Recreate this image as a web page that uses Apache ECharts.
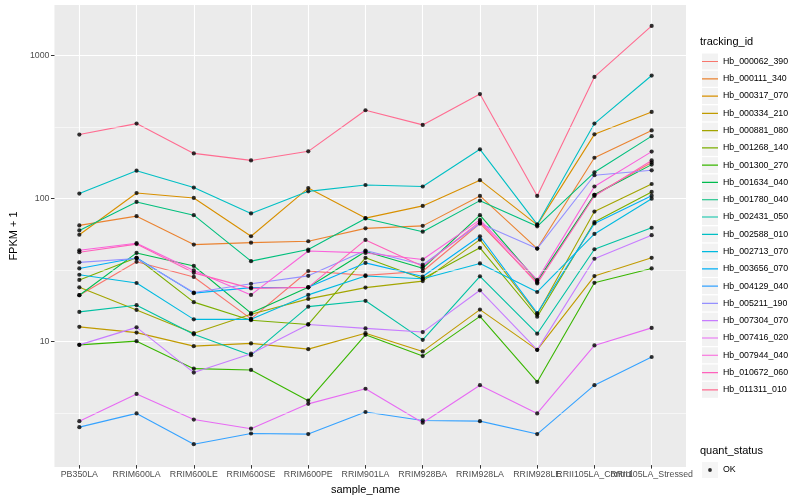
<!DOCTYPE html>
<html>
<head>
<meta charset="utf-8">
<script src="https://cdn.jsdelivr.net/npm/echarts@6/dist/echarts.min.js"></script>
<style>
html,body{margin:0;padding:0;background:#fff;}
#chart{width:800px;height:500px;}
</style>
</head>
<body>
<div id="chart"></div>
<script>
// ---- data ----
const categories = ['PB350LA','RRIM600LA','RRIM600LE','RRIM600SE','RRIM600PE','RRIM901LA','RRIM928BA','RRIM928LA','RRIM928LE','RRII105LA_Control','RRII105LA_Stressed'];
const trackingIds = ['Hb_000062_390','Hb_000111_340','Hb_000317_070','Hb_000334_210','Hb_000881_080','Hb_001268_140','Hb_001300_270','Hb_001634_040','Hb_001780_040','Hb_002431_050','Hb_002588_010','Hb_002713_070','Hb_003656_070','Hb_004129_040','Hb_005211_190','Hb_007304_070','Hb_007416_020','Hb_007944_040','Hb_010672_060','Hb_011311_010'];
const yTicks = [10, 100, 1000];
const yMinorTicks = [3.162, 31.62, 316.2];

const Hb_000062_390 = [20.7, 35.5, 27.8, 14.1, 30.6, 28.5, 30.5, 66, 25.5, 105, 177];
const Hb_000111_340 = [64, 74.3, 46.9, 48.4, 49.5, 61, 63.5, 103, 44, 191, 297];
const Hb_000317_070 = [55, 108, 99.7, 53.7, 117, 72, 87.7, 133, 64.5, 279, 401];
const Hb_000334_210 = [12.4, 11.3, 9.08, 9.49, 8.65, 11.2, 8.34, 16.4, 8.55, 28.2, 37.9];
const Hb_000881_080 = [23.5, 16.3, 11.2, 15.2, 19.5, 23.4, 26, 50.8, 15.2, 80, 125];
const Hb_001268_140 = [26.5, 37.9, 18.5, 13.8, 12.9, 37.9, 27, 44.5, 14.6, 67.5, 110];
const Hb_001300_270 = [9.27, 9.84, 6.31, 6.18, 3.76, 10.9, 7.73, 14.7, 5.09, 25.3, 31.9];
const Hb_001634_040 = [20.7, 41.0, 33.2, 15.5, 23.5, 42, 32, 75.5, 26, 105, 171];
const Hb_001780_040 = [59, 93.5, 75.5, 35.9, 43.3, 71.6, 57.8, 95.5, 63, 151, 271];
const Hb_002431_050 = [15.8, 17.6, 11.0, 7.85, 17.2, 18.9, 10.05, 28.1, 11.1, 43.5, 61.6];
const Hb_002588_010 = [107, 155, 118, 77.6, 111, 123, 120, 219, 65, 332, 722];
const Hb_002713_070 = [28.8, 25.2, 14.0, 14.0, 20.8, 28.2, 27, 34.6, 21.8, 55.7, 98.6];
const Hb_003656_070 = [31.9, 37.9, 21.4, 23.4, 23.5, 34.9, 28, 53.7, 15.5, 66, 103.5];
const Hb_004129_040 = [2.45, 3.06, 1.86, 2.21, 2.19, 3.13, 2.73, 2.70, 2.19, 4.83, 7.62];
const Hb_005211_190 = [35.2, 37.5, 21.6, 24.9, 28.3, 42.6, 33.9, 66, 44, 144, 156];
const Hb_007304_070 = [9.27, 12.3, 5.92, 8.04, 12.9, 12.1, 11.4, 22.4, 8.55, 37.3, 54.6];
const Hb_007416_020 = [2.70, 4.19, 2.77, 2.39, 3.57, 4.56, 2.63, 4.83, 3.06, 9.18, 12.2];
const Hb_007944_040 = [42.8, 48.0, 30.9, 20.8, 42.3, 41.0, 36.9, 70, 26.5, 120, 211];
const Hb_010672_060 = [41.5, 47.3, 29.7, 23.1, 23.5, 50.6, 33, 68, 25, 103, 183];
const Hb_011311_010 = [278, 332, 205, 183, 212, 412, 325, 535, 103, 706, 1611];

const seriesValues = [Hb_000062_390, Hb_000111_340, Hb_000317_070, Hb_000334_210, Hb_000881_080, Hb_001268_140, Hb_001300_270, Hb_001634_040, Hb_001780_040, Hb_002431_050, Hb_002588_010, Hb_002713_070, Hb_003656_070, Hb_004129_040, Hb_005211_190, Hb_007304_070, Hb_007416_020, Hb_007944_040, Hb_010672_060, Hb_011311_010];

// ---- style ----
const palette = ['#F8766D','#EA8331','#D89000','#C09B00','#A3A500','#7CAE00','#39B600','#00BB4E','#00BF7D','#00C1A3','#00BFC4','#00BAE0','#00B0F6','#35A2FF','#9590FF','#C77CFF','#E76BF3','#FA62DB','#FF62BC','#FF6C91'];
const FONT = '"Liberation Sans", Arial, Helvetica, sans-serif';

// log-scale expansion like ggplot (5% each side)
let all = [];
seriesValues.forEach(a => all = all.concat(a));
const lmin = Math.log10(Math.min.apply(null, all));
const lmax = Math.log10(Math.max.apply(null, all));
const span = lmax - lmin;
const yMin = Math.pow(10, lmin - 0.05 * span);
const yMax = Math.pow(10, lmax + 0.05 * span);

const PANEL = {left: 45, right: 114, top: 5, bottom: 33};
const nCat = categories.length;
const panelW = 800 - PANEL.left - PANEL.right;
const step = panelW / (nCat - 1 + 1.2);
const inset = 0.6 * step;

const tinyCorner = 'M0,0L0.05,0L0.05,0.05L0,0.05Z M15.95,15.95L16,15.95L16,16L15.95,16Z ';
const lineIcon = 'path://' + tinyCorner + 'M0,7.4L16,7.4L16,8.6L0,8.6Z';
const dotIcon = 'path://' + tinyCorner + 'M6.1,8A1.9,1.9 0 1 1 9.9,8A1.9,1.9 0 1 1 6.1,8Z';

const series = [];
// minor grid lines (on background grid)
series.push({
  type: 'line', xAxisIndex: 0, yAxisIndex: 0, data: [], silent: true,
  markLine: {
    silent: true, symbol: ['none','none'], label: {show: false},
    lineStyle: {color: '#ffffff', width: 0.55, type: 'solid'},
    emphasis: {disabled: true},
    data: yMinorTicks.map(v => ({yAxis: v}))
  }
});
trackingIds.forEach((id, i) => {
  series.push({
    name: id, type: 'line', xAxisIndex: 1, yAxisIndex: 1,
    data: seriesValues[i], showSymbol: false, symbol: 'none',
    lineStyle: {color: palette[i], width: 1.1},
    itemStyle: {color: palette[i]},
    emphasis: {disabled: true}, animation: false
  });
});
const points = [];
seriesValues.forEach(arr => arr.forEach((v, j) => points.push([j, v])));
series.push({
  name: 'OK', type: 'scatter', xAxisIndex: 1, yAxisIndex: 1,
  data: points, symbol: 'circle', symbolSize: 4.2,
  itemStyle: {color: '#000000'}, z: 5, emphasis: {disabled: true}, animation: false
});

const option = {
  animation: false,
  backgroundColor: '#ffffff',
  textStyle: {fontFamily: FONT},
  title: [
    {text: 'tracking_id', left: 695, top: 31, textStyle: {fontSize: 11, fontWeight: 'normal', color: '#000', fontFamily: FONT}},
    {text: 'quant_status', left: 695, top: 440, textStyle: {fontSize: 11, fontWeight: 'normal', color: '#000', fontFamily: FONT}}
  ],
  grid: [
    {left: PANEL.left, right: PANEL.right, top: PANEL.top, bottom: PANEL.bottom, show: true, backgroundColor: '#EBEBEB', borderWidth: 0, containLabel: false},
    {left: PANEL.left + inset, right: PANEL.right + inset, top: PANEL.top, bottom: PANEL.bottom, show: false, containLabel: false}
  ],
  xAxis: [
    {type: 'value', gridIndex: 0, min: 0, max: 1, show: false},
    {type: 'category', gridIndex: 1, data: categories, boundaryGap: false,
     axisLine: {show: false},
     axisTick: {show: true, length: 3.5, lineStyle: {color: '#333333', width: 1}},
     axisLabel: {interval: 0, hideOverlap: false, color: '#4D4D4D', fontSize: 8.8, margin: 5, fontFamily: FONT},
     splitLine: {show: true, lineStyle: {color: '#ffffff', width: 1.1}},
     name: 'sample_name', nameLocation: 'middle', nameGap: 18,
     nameTextStyle: {fontSize: 11, color: '#000', fontFamily: FONT}}
  ],
  yAxis: [
    {type: 'log', logBase: 10, gridIndex: 0, min: yMin, max: yMax,
     axisLine: {show: false},
     axisTick: {show: true, length: 3.5, lineStyle: {color: '#333333', width: 1}, customValues: yTicks},
     axisLabel: {color: '#4D4D4D', fontSize: 8.8, margin: 5, fontFamily: FONT, customValues: yTicks,
                 formatter: v => String(Math.round(v))},
     splitLine: {show: true, lineStyle: {color: '#ffffff', width: 1.1}},
     name: 'FPKM + 1', nameLocation: 'middle', nameGap: 31, nameRotate: 90,
     nameTextStyle: {fontSize: 11, color: '#000', fontFamily: FONT}},
    {type: 'log', logBase: 10, gridIndex: 1, min: yMin, max: yMax, show: false, splitLine: {show: false}}
  ],
  legend: [
    {orient: 'vertical', left: 697, top: 48.5, itemWidth: 16, itemHeight: 16, itemGap: 1.28,
     icon: 'rect', itemStyle: {color: '#F2F2F2', borderWidth: 0}, selectedMode: false,
     textStyle: {color: 'rgba(0,0,0,0)', fontSize: 8.8, fontFamily: FONT}, data: trackingIds, z: 1},
    {orient: 'vertical', left: 697, top: 48.5, itemWidth: 16, itemHeight: 16, itemGap: 1.28,
     icon: lineIcon, itemStyle: {borderWidth: 0}, selectedMode: false,
     textStyle: {color: '#000', fontSize: 8.8, fontFamily: FONT}, data: trackingIds, z: 2},
    {orient: 'vertical', left: 697, top: 457, itemWidth: 16, itemHeight: 16,
     icon: 'rect', itemStyle: {color: '#F2F2F2', borderWidth: 0}, selectedMode: false,
     textStyle: {color: 'rgba(0,0,0,0)', fontSize: 8.8, fontFamily: FONT}, data: ['OK'], z: 1},
    {orient: 'vertical', left: 697, top: 457, itemWidth: 16, itemHeight: 16,
     icon: dotIcon, itemStyle: {color: '#000', borderWidth: 0}, selectedMode: false,
     textStyle: {color: '#000', fontSize: 8.8, fontFamily: FONT}, data: ['OK'], z: 2}
  ],
  series: series
};
const chart = echarts.init(document.getElementById('chart'), null, {renderer: 'canvas'});
chart.setOption(option);
</script>
</body>
</html>
